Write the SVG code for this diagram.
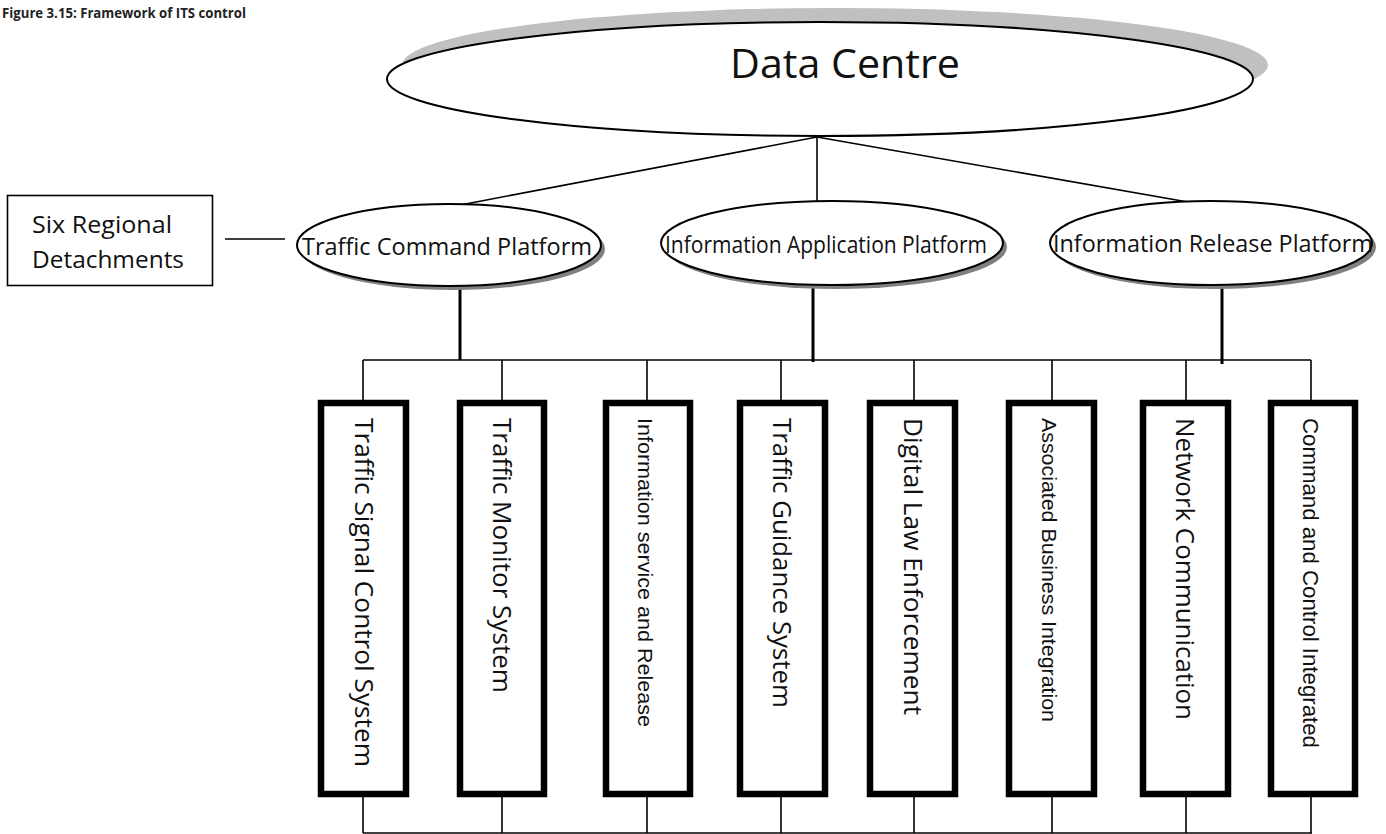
<svg xmlns="http://www.w3.org/2000/svg" width="1386" height="834" viewBox="0 0 1386 834">
<style>
.title{font-family:"Open Sans","Liberation Sans",sans-serif;font-weight:bold;font-size:14.5px;fill:#222}
.lbl{font-family:"Open Sans","DejaVu Sans",sans-serif;fill:#111}
.arial{font-family:"Liberation Sans",Arial,sans-serif;fill:#111}
.ell{fill:#fff;stroke:#000;stroke-width:2}
.shd{fill:#808080}
.box{fill:#fff;stroke:#000;stroke-width:6.5}
.thin{stroke:#000;stroke-width:1.6;fill:none}
.thick{stroke:#000;stroke-width:3;fill:none}
</style>
<rect width="1386" height="834" fill="#fff"/>
<text class="title" x="2" y="18" textLength="244" lengthAdjust="spacingAndGlyphs">Figure 3.15: Framework of ITS control</text>

<g id="connectors">
  <line class="thin" x1="817" y1="137" x2="455" y2="206"/>
  <line class="thin" x1="817" y1="137" x2="817" y2="201"/>
  <line class="thin" x1="817" y1="137" x2="1205" y2="205"/>
  <line class="thin" x1="225" y1="239" x2="285" y2="239"/>
  <line class="thick" x1="460" y1="287" x2="460" y2="360"/>
  <line class="thick" x1="813" y1="288" x2="813" y2="362"/>
  <line class="thick" x1="1222" y1="288" x2="1222" y2="364"/>
  <line class="thin" x1="363" y1="360" x2="1311" y2="360"/>
  <line class="thin" x1="363" y1="360" x2="363" y2="401"/>
  <line class="thin" x1="502" y1="360" x2="502" y2="401"/>
  <line class="thin" x1="647" y1="360" x2="647" y2="401"/>
  <line class="thin" x1="781" y1="360" x2="781" y2="401"/>
  <line class="thin" x1="914" y1="360" x2="914" y2="401"/>
  <line class="thin" x1="1052" y1="360" x2="1052" y2="401"/>
  <line class="thin" x1="1186" y1="360" x2="1186" y2="401"/>
  <line class="thin" x1="1311" y1="360" x2="1311" y2="401"/>
  <line class="thin" x1="363" y1="796" x2="363" y2="833"/>
  <line class="thin" x1="502" y1="796" x2="502" y2="833"/>
  <line class="thin" x1="647" y1="796" x2="647" y2="833"/>
  <line class="thin" x1="781" y1="796" x2="781" y2="833"/>
  <line class="thin" x1="914" y1="796" x2="914" y2="833"/>
  <line class="thin" x1="1052" y1="796" x2="1052" y2="833"/>
  <line class="thin" x1="1186" y1="796" x2="1186" y2="833"/>
  <line class="thin" x1="1311" y1="796" x2="1311" y2="833"/>
  <line class="thin" x1="363" y1="833" x2="1312" y2="833"/>
</g>

<g id="data-centre">
  <ellipse cx="835" cy="65" rx="433" ry="57" fill="#c0c0c0"/>
  <ellipse class="ell" cx="820" cy="79" rx="433" ry="57"/>
  <text class="lbl" x="730" y="78" font-size="41" textLength="230" lengthAdjust="spacingAndGlyphs">Data Centre</text>
</g>

<g id="six-regional">
  <rect x="7.5" y="195.5" width="205" height="90" fill="#fff" stroke="#000" stroke-width="1.6"/>
  <text class="lbl" x="32" y="233" font-size="24" textLength="140" lengthAdjust="spacingAndGlyphs">Six Regional</text>
  <text class="lbl" x="32" y="268" font-size="24" textLength="152" lengthAdjust="spacingAndGlyphs">Detachments</text>
</g>

<g id="traffic-command">
  <ellipse class="shd" cx="453" cy="249" rx="152" ry="41"/>
  <ellipse class="ell" cx="449" cy="245" rx="152" ry="41"/>
  <text class="lbl" x="302" y="255" font-size="23" textLength="290" lengthAdjust="spacingAndGlyphs">Traffic Command Platform</text>
</g>

<g id="info-application">
  <ellipse class="shd" cx="836" cy="247" rx="171" ry="42"/>
  <ellipse class="ell" cx="832" cy="243" rx="171" ry="42"/>
  <text class="lbl" x="665" y="253" font-size="23" textLength="322" lengthAdjust="spacingAndGlyphs">Information Application Platform</text>
</g>

<g id="info-release">
  <ellipse class="shd" cx="1215" cy="247" rx="161" ry="42"/>
  <ellipse class="ell" cx="1211" cy="243" rx="161" ry="42"/>
  <text class="lbl" x="1053" y="252" font-size="23" textLength="320" lengthAdjust="spacingAndGlyphs">Information Release Platform</text>
</g>

<g id="box-traffic-signal">
  <rect class="box" x="321" y="403" width="85" height="391"/>
  <text class="lbl" font-size="26" transform="translate(355,418) rotate(90)" textLength="349" lengthAdjust="spacingAndGlyphs">Traffic Signal Control System</text>
</g>
<g id="box-traffic-monitor">
  <rect class="box" x="460" y="403" width="84" height="391"/>
  <text class="lbl" font-size="26" transform="translate(493,418) rotate(90)" textLength="275" lengthAdjust="spacingAndGlyphs">Traffic Monitor System</text>
</g>
<g id="box-info-service">
  <rect class="box" x="606" y="403" width="84" height="391"/>
  <text class="arial" font-size="21" transform="translate(638,418) rotate(90)" textLength="309" lengthAdjust="spacingAndGlyphs">Information service and Release</text>
</g>
<g id="box-traffic-guidance">
  <rect class="box" x="740" y="403" width="85" height="391"/>
  <text class="lbl" font-size="26" transform="translate(773,418) rotate(90)" textLength="290" lengthAdjust="spacingAndGlyphs">Traffic Guidance System</text>
</g>
<g id="box-digital-law">
  <rect class="box" x="870" y="403" width="85" height="391"/>
  <text class="lbl" font-size="26" transform="translate(904,418) rotate(90)" textLength="297" lengthAdjust="spacingAndGlyphs">Digital Law Enforcement</text>
</g>
<g id="box-associated">
  <rect class="box" x="1009" y="403" width="85" height="391"/>
  <text class="arial" font-size="21" transform="translate(1042,418) rotate(90)" textLength="304" lengthAdjust="spacingAndGlyphs">Associated Business Integration</text>
</g>
<g id="box-network">
  <rect class="box" x="1143" y="403" width="85" height="391"/>
  <text class="lbl" font-size="26" transform="translate(1176,418) rotate(90)" textLength="302" lengthAdjust="spacingAndGlyphs">Network Communication</text>
</g>
<g id="box-command-control">
  <rect class="box" x="1271" y="403" width="84" height="391"/>
  <text class="arial" font-size="22" transform="translate(1303,418) rotate(90)" textLength="330" lengthAdjust="spacingAndGlyphs">Command and Control Integrated</text>
</g>
</svg>
